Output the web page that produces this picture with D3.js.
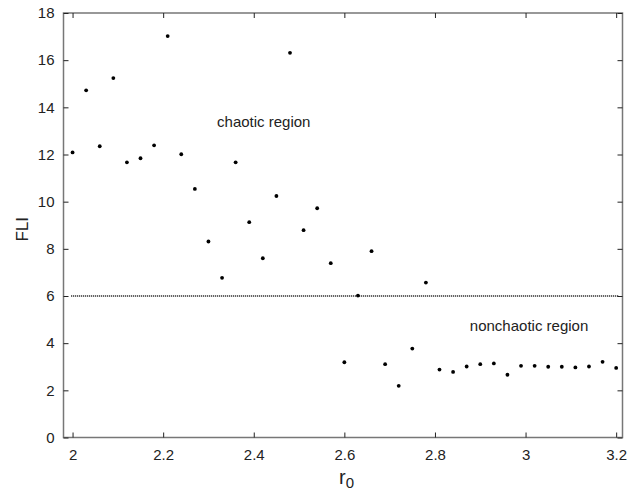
<!DOCTYPE html>
<html>
<head>
<meta charset="utf-8">
<script src="https://cdn.jsdelivr.net/npm/d3@7"></script>
<style>
  html, body { margin: 0; padding: 0; background: #fff; }
  svg { display: block; font-family: Arial, "Liberation Sans", sans-serif; }
</style>
</head>
<body>
<svg id="chart" width="627" height="493"></svg>
<script>
// Fast Lyapunov indicator versus initial radius
const r0 = [2.00, 2.03, 2.06, 2.09, 2.12, 2.15, 2.18, 2.21, 2.24, 2.27,
            2.30, 2.33, 2.36, 2.39, 2.42, 2.45, 2.48, 2.51, 2.54, 2.57,
            2.60, 2.63, 2.66, 2.69, 2.72, 2.75, 2.78, 2.81, 2.84, 2.87,
            2.90, 2.93, 2.96, 2.99, 3.02, 3.05, 3.08, 3.11, 3.14, 3.17, 3.20];
const fli = [12.09, 14.72, 12.35, 15.24, 11.67, 11.84, 12.39, 17.02, 12.01, 10.54,
             8.31, 6.77, 11.67, 9.13, 7.60, 10.24, 16.31, 8.79, 9.72, 7.39,
             3.19, 6.02, 7.90, 3.11, 2.19, 3.77, 6.57, 2.88, 2.78, 3.01,
             3.11, 3.14, 2.66, 3.04, 3.04, 3.00, 3.00, 2.97, 3.01, 3.21, 2.95];
const xTicks = [2, 2.2, 2.4, 2.6, 2.8, 3, 3.2];
const yTicks = [0, 2, 4, 6, 8, 10, 12, 14, 16, 18];
const threshold = 6;
const thresholdSpan = [1.997, 3.206];
const regionLabels = [
  { text: "chaotic region", x: 2.319, y: 13.15 },
  { text: "nonchaotic region", x: 2.877, y: 4.53 }
];

const svg = d3.select("#chart");
const plot = { left: 63.5, right: 622.5, top: 13, bottom: 437.5 };

const x = d3.scaleLinear().domain([1.98, 3.214]).range([plot.left, plot.right]);
const y = d3.scaleLinear().domain([0, 18]).range([plot.bottom, plot.top]);

const textColor = "#222";

// frame
svg.append("rect")
  .attr("x", plot.left).attr("y", plot.top)
  .attr("width", plot.right - plot.left).attr("height", plot.bottom - plot.top)
  .attr("fill", "none").attr("stroke", "#777").attr("stroke-width", 1.5);

function styleAxis(g, showLabels) {
  g.select(".domain").remove();
  g.selectAll(".tick line").attr("stroke", "#222").attr("stroke-width", 1);
  g.selectAll(".tick text")
    .attr("fill", textColor)
    .style("font-size", "15px")
    .style("font-family", "Arial, 'Liberation Sans', sans-serif");
  if (!showLabels) g.selectAll(".tick text").remove();
}

const fmt = d3.format("~g");

svg.append("g")
  .attr("transform", `translate(0,${plot.bottom})`)
  .call(d3.axisBottom(x).tickValues(xTicks).tickFormat(fmt).tickSizeInner(-5).tickSizeOuter(0).tickPadding(12))
  .call(g => styleAxis(g, true));

svg.append("g")
  .attr("transform", `translate(0,${plot.top})`)
  .call(d3.axisTop(x).tickValues(xTicks).tickSizeInner(-5).tickSizeOuter(0))
  .call(g => styleAxis(g, false));

svg.append("g")
  .attr("transform", `translate(${plot.left},0)`)
  .call(d3.axisLeft(y).tickValues(yTicks).tickFormat(fmt).tickSizeInner(-5).tickSizeOuter(0).tickPadding(9))
  .call(g => styleAxis(g, true));

svg.append("g")
  .attr("transform", `translate(${plot.right},0)`)
  .call(d3.axisRight(y).tickValues(yTicks).tickSizeInner(-5).tickSizeOuter(0))
  .call(g => styleAxis(g, false));

// threshold separating chaotic and regular orbits
svg.append("line")
  .attr("x1", x(thresholdSpan[0])).attr("x2", x(thresholdSpan[1]))
  .attr("y1", y(threshold)).attr("y2", y(threshold))
  .attr("stroke", "#000").attr("stroke-width", 1.6)
  .attr("stroke-dasharray", "1,1");

// data points
svg.append("g")
  .selectAll("circle")
  .data(r0.map((d, i) => [d, fli[i]]))
  .join("circle")
  .attr("cx", d => x(d[0]))
  .attr("cy", d => y(d[1]))
  .attr("r", 1.9)
  .attr("fill", "#000");

// region annotations
svg.append("g")
  .selectAll("text")
  .data(regionLabels)
  .join("text")
  .attr("x", d => x(d.x))
  .attr("y", d => y(d.y))
  .attr("fill", textColor)
  .style("font-size", "15px")
  .text(d => d.text);

// axis titles
svg.append("text")
  .attr("transform", `translate(28,${(plot.top + plot.bottom) / 2 + 4}) rotate(-90)`)
  .attr("text-anchor", "middle")
  .attr("fill", textColor)
  .style("font-size", "17px")
  .text("FLI");

const xt = svg.append("text")
  .attr("x", 339)
  .attr("y", 484)
  .attr("fill", textColor)
  .style("font-size", "20px");
xt.append("tspan").text("r");
xt.append("tspan").attr("dy", 4).style("font-size", "15px").text("0");
</script>
</body>
</html>
